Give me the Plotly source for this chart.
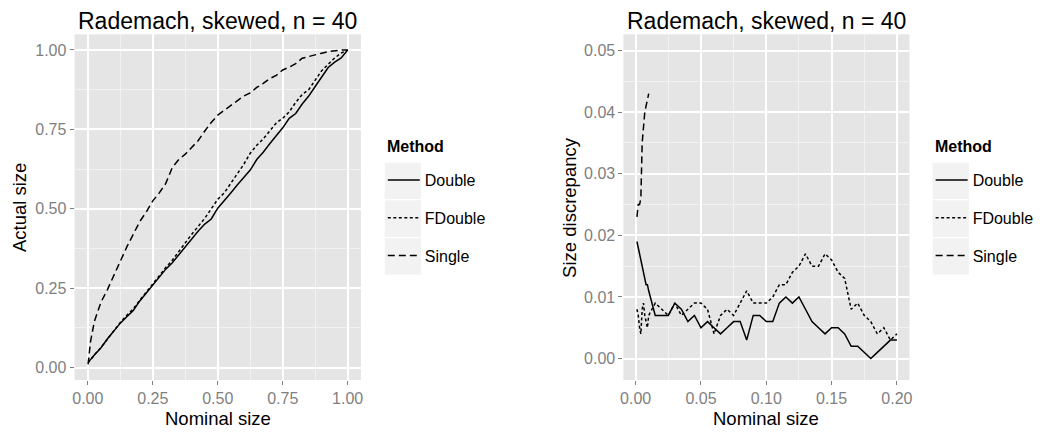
import plotly.graph_objects as go

# ---------------- data ----------------
methods = ["Double", "FDouble", "Single"]
panel_title = "Rademach, skewed, n = 40"

# Left panel: actual size vs nominal size
left_x = [0.001, 0.01, 0.025, 0.05, 0.075, 0.1, 0.125, 0.15, 0.175, 0.2,
          0.225, 0.25, 0.275, 0.3, 0.325, 0.35, 0.375, 0.4, 0.425, 0.45,
          0.475, 0.5, 0.525, 0.55, 0.575, 0.6, 0.625, 0.65, 0.675, 0.7,
          0.725, 0.75, 0.775, 0.8, 0.825, 0.85, 0.875, 0.9, 0.925, 0.95,
          0.975, 1.0]
left_double = [0.020, 0.025, 0.040, 0.062, 0.090, 0.115, 0.140, 0.160, 0.180, 0.210,
               0.235, 0.260, 0.285, 0.310, 0.330, 0.355, 0.382, 0.405, 0.430, 0.452,
               0.468, 0.502, 0.525, 0.550, 0.575, 0.600, 0.622, 0.655, 0.678, 0.705,
               0.730, 0.755, 0.785, 0.800, 0.830, 0.855, 0.885, 0.915, 0.945, 0.962,
               0.975, 1.000]
left_fdouble = [0.015, 0.025, 0.040, 0.063, 0.090, 0.117, 0.142, 0.165, 0.185, 0.212,
                0.238, 0.262, 0.290, 0.315, 0.338, 0.365, 0.395, 0.420, 0.445, 0.470,
                0.500, 0.530, 0.550, 0.580, 0.610, 0.640, 0.675, 0.700, 0.720, 0.745,
                0.770, 0.785, 0.805, 0.835, 0.860, 0.875, 0.905, 0.935, 0.955, 0.975,
                0.990, 1.000]
left_single = [0.010, 0.080, 0.145, 0.205, 0.245, 0.290, 0.340, 0.380, 0.420, 0.460,
               0.490, 0.525, 0.550, 0.580, 0.630, 0.655, 0.672, 0.695, 0.715, 0.745,
               0.772, 0.795, 0.810, 0.825, 0.840, 0.855, 0.865, 0.882, 0.895, 0.910,
               0.920, 0.937, 0.946, 0.957, 0.974, 0.980, 0.984, 0.990, 0.995, 0.998,
               1.000, 1.000]

# Right panel: size discrepancy vs nominal size
right_x = [0.001, 0.002, 0.003, 0.004, 0.005, 0.006, 0.007, 0.008, 0.009, 0.010,
           0.015, 0.020, 0.025, 0.030, 0.035, 0.040, 0.045, 0.050, 0.055, 0.060,
           0.065, 0.070, 0.075, 0.080, 0.085, 0.090, 0.095, 0.100, 0.105, 0.110,
           0.115, 0.120, 0.125, 0.130, 0.135, 0.140, 0.145, 0.150, 0.155, 0.160,
           0.165, 0.170, 0.175, 0.180, 0.185, 0.190, 0.195, 0.200]
right_double = [0.019, 0.018, 0.017, 0.016, 0.015, 0.014, 0.013, 0.012, 0.012, 0.011,
                0.007, 0.007, 0.007, 0.009, 0.008, 0.006, 0.007, 0.005, 0.006, 0.005,
                0.004, 0.005, 0.006, 0.006, 0.003, 0.007, 0.007, 0.006, 0.006, 0.009,
                0.010, 0.009, 0.010, 0.008, 0.006, 0.005, 0.004, 0.005, 0.005, 0.004,
                0.002, 0.002, 0.001, 0.000, 0.001, 0.002, 0.003, 0.003]
right_fdouble = [0.008, 0.007, 0.005, 0.004, 0.008, 0.009, 0.007, 0.006, 0.005, 0.007,
                 0.009, 0.008, 0.007, 0.009, 0.007, 0.008, 0.009, 0.009, 0.008, 0.004,
                 0.007, 0.008, 0.007, 0.009, 0.011, 0.009, 0.009, 0.009, 0.010, 0.012,
                 0.012, 0.014, 0.015, 0.017, 0.015, 0.015, 0.017, 0.016, 0.014, 0.013,
                 0.008, 0.009, 0.007, 0.006, 0.004, 0.005, 0.003, 0.004]
right_single_x = [0.001, 0.002, 0.003, 0.004, 0.005, 0.006, 0.007, 0.008, 0.009, 0.010]
right_single = [0.023, 0.025, 0.025, 0.026, 0.035, 0.038, 0.040, 0.041, 0.042, 0.043]

# ---------------- style ----------------
W, H = 1043, 432
FONT = "Liberation Sans"
dashes = {"Double": "solid", "FDouble": "3px,2.5px", "Single": "7px,4px"}
LW = 1.5

def px_x(p):
    return p / W

def px_y(p):
    return 1 - p / H

fig = go.Figure()

left_series = {"Double": left_double, "FDouble": left_fdouble, "Single": left_single}
right_series = {"Double": (right_x, right_double), "FDouble": (right_x, right_fdouble),
                "Single": (right_single_x, right_single)}

for m in methods:
    fig.add_trace(go.Scatter(x=left_x, y=left_series[m], mode="lines", name=m,
                             line=dict(color="black", width=LW, dash=dashes[m]),
                             xaxis="x", yaxis="y", legend="legend",
                             legendgroup="L" + m))
for m in methods:
    xs, ys = right_series[m]
    fig.add_trace(go.Scatter(x=xs, y=ys, mode="lines", name=m,
                             line=dict(color="black", width=LW, dash=dashes[m]),
                             xaxis="x2", yaxis="y2", legend="legend2",
                             legendgroup="R" + m))

panel_top, panel_bot = 34.3, 380
L_left, L_right = 72, 360
R_left, R_right = 624, 911.7
ydom = [px_y(panel_bot), px_y(panel_top)]

tickfont = dict(family=FONT, size=16, color="#7F7F7F")
common = dict(showline=False, zeroline=False, ticks="outside", ticklen=4,
              tickcolor="#7F7F7F", tickwidth=1, tickfont=tickfont,
              showgrid=True, gridcolor="white", gridwidth=1.5)

fig.update_layout(
    width=W, height=H, margin=dict(l=0, r=0, t=0, b=0),
    paper_bgcolor="white", plot_bgcolor="#E5E5E5",
    font=dict(family=FONT, color="black"),
    xaxis=dict(domain=[px_x(L_left), px_x(L_right)], range=[-0.051, 1.051],
               tickvals=[0, 0.25, 0.5, 0.75, 1.0],
               ticktext=["0.00", "0.25", "0.50", "0.75", "1.00"],
               minor=dict(tickvals=[0.125, 0.375, 0.625, 0.875], showgrid=True,
                          gridcolor="#F2F2F2", gridwidth=0.8, ticks=""),
               anchor="y", **common),
    yaxis=dict(domain=ydom, range=[-0.039, 1.0494],
               tickvals=[0, 0.25, 0.5, 0.75, 1.0],
               ticktext=["0.00", "0.25", "0.50", "0.75", "1.00"],
               minor=dict(tickvals=[0.125, 0.375, 0.625, 0.875], showgrid=True,
                          gridcolor="#F2F2F2", gridwidth=0.8, ticks=""),
               anchor="x", **common),
    xaxis2=dict(domain=[px_x(R_left), px_x(R_right)], range=[-0.00936, 0.2096],
                tickvals=[0, 0.05, 0.1, 0.15, 0.2],
                ticktext=["0.00", "0.05", "0.10", "0.15", "0.20"],
                minor=dict(tickvals=[0.025, 0.075, 0.125, 0.175], showgrid=True,
                           gridcolor="#F2F2F2", gridwidth=0.8, ticks=""),
                anchor="y2", **common),
    yaxis2=dict(domain=ydom, range=[-0.00348, 0.05263],
                tickvals=[0, 0.01, 0.02, 0.03, 0.04, 0.05],
                ticktext=["0.00", "0.01", "0.02", "0.03", "0.04", "0.05"],
                minor=dict(tickvals=[0.005, 0.015, 0.025, 0.035, 0.045], showgrid=True,
                           gridcolor="#F2F2F2", gridwidth=0.8, ticks=""),
                anchor="x2", **common),
    showlegend=True,
)

legend_common = dict(
    xanchor="left", yanchor="top", bgcolor="rgba(0,0,0,0)", borderwidth=0,
    font=dict(family=FONT, size=16, color="black"),
    tracegroupgap=14, itemwidth=32, itemclick=False, itemdoubleclick=False,
)
fig.update_layout(
    legend=dict(x=px_x(382), y=px_y(163), **legend_common),
    legend2=dict(x=px_x(933), y=px_y(163), **legend_common),
)

# legend key backgrounds (grey95 boxes, ggplot style)
shapes = []
rows = [(162.7, 199.0), (200.3, 237.0), (238.3, 274.5)]
for (x0, x1) in [(384, 420.5), (935, 971.5)]:
    for (y0, y1) in rows:
        shapes.append(dict(type="rect", xref="paper", yref="paper",
                           x0=px_x(x0), x1=px_x(x1), y0=px_y(y1), y1=px_y(y0),
                           fillcolor="#F2F2F2", line=dict(width=0), layer="below"))
fig.update_layout(shapes=shapes)

# titles and axis titles
ann = []
for (a, b) in [(L_left, L_right), (R_left, R_right)]:
    ann.append(dict(text=panel_title, x=px_x((a + b) / 2), y=px_y(20.5), xref="paper",
                    yref="paper", showarrow=False, xanchor="center", yanchor="middle",
                    font=dict(family=FONT, size=23, color="black")))
    ann.append(dict(text="Nominal size", x=px_x((a + b) / 2), y=px_y(418), xref="paper",
                    yref="paper", showarrow=False, xanchor="center", yanchor="middle",
                    font=dict(family=FONT, size=18.5, color="black")))
ann.append(dict(text="Actual size", x=px_x(16), y=px_y((panel_top + panel_bot) / 2),
                xref="paper", yref="paper", showarrow=False, textangle=-90,
                xanchor="center", yanchor="middle",
                font=dict(family=FONT, size=18.5, color="black")))
ann.append(dict(text="Size discrepancy", x=px_x(569), y=px_y((panel_top + panel_bot) / 2),
                xref="paper", yref="paper", showarrow=False, textangle=-90,
                xanchor="center", yanchor="middle",
                font=dict(family=FONT, size=18.5, color="black")))
# legend titles
for lx in (384, 935):
    ann.append(dict(text="<b>Method</b>", x=px_x(lx), y=px_y(146), xref="paper",
                    yref="paper", showarrow=False, xanchor="left", yanchor="middle",
                    font=dict(family=FONT, size=16, color="black")))
fig.update_layout(annotations=ann)

fig.write_html("out.html")
